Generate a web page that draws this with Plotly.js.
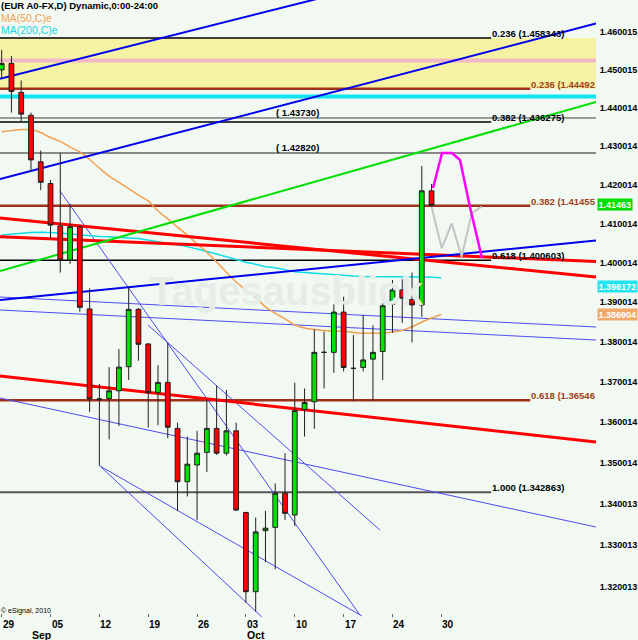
<!DOCTYPE html>
<html><head><meta charset="utf-8">
<script src="https://cdn.plot.ly/plotly-3.0.1.min.js"></script>
<style>html,body{margin:0;padding:0;background:#F2F8F2;}#chart{width:638px;height:640px;}</style>
</head><body><div id="chart"></div>
<script>
// ---- candle data (trading-day index 0..44) ----
const open  = [1.4499,1.4516,1.4440,1.4380,1.4259,1.4203,1.4094,1.4007,1.4092,1.3883,1.3656,1.3659,1.3678,1.3738,1.3882,1.3795,1.3674,1.3699,1.3585,1.3454,1.3495,1.3526,1.3585,1.3524,1.3579,1.3379,1.3188,1.3335,1.3343,1.3426,1.3373,1.3632,1.3651,1.3774,1.3774,1.3875,1.3734,1.3736,1.3757,1.3776,1.3895,1.3931,1.3907,1.3893,1.4184];
const high  = [1.4552,1.4536,1.4471,1.4387,1.4288,1.4212,1.4281,1.4150,1.4095,1.3935,1.3695,1.3737,1.3782,1.3938,1.3885,1.3797,1.3742,1.3798,1.3599,1.3565,1.3579,1.3657,1.3690,1.3680,1.3599,1.3381,1.3367,1.3383,1.3450,1.3524,1.3698,1.3684,1.3832,1.3826,1.3895,1.3914,1.3817,1.3868,1.3842,1.3897,1.3956,1.3958,1.3975,1.4248,1.4202];
const low   = [1.4477,1.4387,1.4363,1.4233,1.4186,1.4063,1.3975,1.3997,1.3876,1.3626,1.3493,1.3558,1.3591,1.3705,1.3753,1.3587,1.3593,1.3561,1.3383,1.3418,1.3361,1.3478,1.3520,1.3518,1.3383,1.3161,1.3140,1.3259,1.3242,1.3361,1.3346,1.3565,1.3584,1.3684,1.3723,1.3726,1.3653,1.3726,1.3653,1.3705,1.3823,1.3848,1.3799,1.3863,1.4139];
const close = [1.4516,1.4442,1.4383,1.4264,1.4206,1.4096,1.4007,1.4092,1.3887,1.3658,1.3658,1.3678,1.3737,1.3882,1.3794,1.3674,1.3699,1.3588,1.3454,1.3497,1.3524,1.3585,1.3524,1.3579,1.3385,1.3188,1.3332,1.3341,1.3426,1.3377,1.3629,1.3649,1.3774,1.3774,1.3875,1.3736,1.3734,1.3755,1.3774,1.3891,1.3931,1.3910,1.3893,1.4184,1.41463];
// moving averages (index 0..45)
const ma50  = [1.4337,1.4340,1.4343,1.4342,1.4335,1.4322,1.4312,1.4297,1.4285,1.4265,1.4243,1.4222,1.4206,1.4190,1.4173,1.4158,1.4132,1.4112,1.4091,1.4071,1.4048,1.4027,1.4002,1.3976,1.3951,1.3931,1.3912,1.3888,1.3872,1.3858,1.3843,1.3835,1.3831,1.3829,1.3827,1.3827,1.3824,1.3822,1.3822,1.3822,1.3825,1.3829,1.3838,1.3850,1.3860,1.3869];
const ma200 = [1.4071,1.4073,1.4076,1.4077,1.4078,1.4077,1.4076,1.4073,1.4071,1.4068,1.4067,1.4066,1.4064,1.4063,1.4062,1.4058,1.4054,1.4050,1.4045,1.4041,1.4035,1.4029,1.4022,1.4015,1.4007,1.4001,1.3996,1.3990,1.3987,1.3982,1.3977,1.3975,1.3973,1.3971,1.3970,1.3968,1.3966,1.3965,1.3965,1.3965,1.3965,1.3965,1.3965,1.3964,1.3963,1.3962];
// axis ticks
const xTickIdx  = [0,5,10,15,20,25,30,35,40,45];
const xTickText = ['29','05','12','19','26','03','10','17','24','30'];
const monthIdx  = [3,25];
const monthText = ['Sep','Oct'];
const yTickVals = [1.320013,1.330013,1.340013,1.350014,1.360014,1.370014,1.380014,1.390014,1.400014,1.410014,1.420014,1.430014,1.440014,1.450015,1.460015];
const yTickText = ['1.320013','1.330013','1.340013','1.350014','1.360014','1.370014','1.380014','1.390014','1.400014','1.410014','1.420014','1.430014','1.440014','1.450015','1.460015'];
// fibonacci levels
const fibBlackPrice = [1.458343,1.436275,1.400603,1.342863];
const fibBlackText  = ['0.236 (1.458343)','0.382 (1.436275)','0.618 (1.400603)','1.000 (1.342863)'];
const fibBrownPrice = [1.44492,1.41455,1.36546];
const fibBrownText  = ['0.236 (1.44492','0.382 (1.41455','0.618 (1.36546'];
const levelPrice = [1.4373,1.4282];
const levelText  = ['( 1.43730)','( 1.42820)'];
const bandPrice = [1.44492,1.458343];
const pinkPrice = 1.45238, cyanPrice = 1.44292;
// trend lines [x0, p0, x1, p1]
const blueThick = [[-0.17,1.4476,40.77,1.4743],[-0.17,1.42145,60.83,1.46218],[-0.17,1.39055,60.83,1.40566]];
const redThick  = [[-0.17,1.41142,60.83,1.39637],[-0.17,1.40664,60.83,1.40031],[-0.17,1.37149,60.83,1.35514]];
const greenLine = [[-0.17,1.39790,60.83,1.44148]];
const thinBlue  = [[-0.17,1.39131,60.83,1.38375],[-0.17,1.38803,60.83,1.38048],[-0.17,1.36602,60.83,1.33438],
                   [10.06,1.34925,36.88,1.31298],[10.06,1.34925,26.64,1.31274],[5.97,1.41835,36.67,1.31322],[14.97,1.38425,38.72,1.33365]];
// projections
const projPinkX = [44.15,45.07,46.09,46.91,47.93,49.16];
const projPinkY = [1.4191,1.42818,1.42818,1.42637,1.41424,1.40120];
const projGrayX = [44.0,45.04,46.06,47.08,48.11,49.13];
const projGrayY = [1.41432,1.40367,1.41007,1.40153,1.41263,1.41432];
// right-axis value boxes
const boxText = ['1.41463','1.396172','1.386904'];
const boxPrice = [1.41463,1.396172,1.386904];
const boxColor = ['#00DD00','#22E4F0','#F0A868'];
const boxShift = [1,-9,0];

const X0=-0.17, X1=60.83, FIBEND=50.1, BROWNEND=54.1;
const L = Math.log10;
const traces = [];
function seg(x0,p0,x1,p1,color,width,z){traces.push({type:'scatter',mode:'lines',x:[x0,x1],y:[p0,p1],line:{color:color,width:width},hoverinfo:'skip',showlegend:false,zorder:z||0});}
traces.push({type:'scatter',mode:'lines',x:[X0,X1,X1,X0,X0],y:[bandPrice[0],bandPrice[0],bandPrice[1],bandPrice[1],bandPrice[0]],fill:'toself',fillcolor:'#F6F2A4',line:{width:0},hoverinfo:'skip',showlegend:false});
seg(X0,pinkPrice,X1,pinkPrice,'#F2B8C6',4);
seg(X0,cyanPrice,X1,cyanPrice,'#10E6F2',4);
levelPrice.forEach((p,i)=>seg(X0,p,X1,p,i===0?'#404040':'#8A8A8A',i===0?1:2));
fibBlackPrice.forEach((p,i)=>seg(X0,p,FIBEND,p,i===3?'#555555':'#000000',i===3?2:1.5));
fibBrownPrice.forEach(p=>seg(X0,p,BROWNEND,p,'#A0301A',2.5));
thinBlue.forEach(t=>seg(t[0],t[1],t[2],t[3],'#4C4CF2',1));
traces.push({type:'scatter',mode:'lines',x:ma200.map((v,i)=>i),y:ma200,line:{color:'#10DDE8',width:1.5},hoverinfo:'skip',showlegend:false});
traces.push({type:'scatter',mode:'lines',x:ma50.map((v,i)=>i),y:ma50,line:{color:'#F2A050',width:1.5,shape:'spline'},hoverinfo:'skip',showlegend:false});
redThick.forEach(t=>seg(t[0],t[1],t[2],t[3],'#FF0000',3));
greenLine.forEach(t=>seg(t[0],t[1],t[2],t[3],'#00E000',2));
blueThick.forEach(t=>seg(t[0],t[1],t[2],t[3],'#0000EE',2));
traces.push({type:'candlestick',x:open.map((v,i)=>i),open:open,high:high,low:low,close:close,
  increasing:{fillcolor:'#00E000',line:{color:'#202020',width:1}},
  decreasing:{fillcolor:'#FF0000',line:{color:'#202020',width:1}},
  whiskerwidth:0,hoverinfo:'skip',showlegend:false,zorder:5});
traces.push({type:'scatter',mode:'lines',x:projGrayX,y:projGrayY,line:{color:'#C4C4C4',width:2},hoverinfo:'skip',showlegend:false,zorder:6});
traces.push({type:'scatter',mode:'lines',x:projPinkX,y:projPinkY,line:{color:'#FF00FF',width:2.5},hoverinfo:'skip',showlegend:false,zorder:7});

const F='Liberation Sans, Arial, sans-serif';
const ann=[];
ann.push({xref:'paper',yref:'paper',x:0.48,y:1-291/617,text:'Tagesausblick',showarrow:false,font:{family:F,size:40,color:'#E6EDE6',weight:'bold'}});
fibBlackPrice.forEach((p,i)=>ann.push({xref:'x',yref:'y',x:FIBEND,y:L(p),xanchor:'left',yanchor:'bottom',yshift:-2,text:fibBlackText[i],showarrow:false,borderpad:0,font:{family:F,size:9.5,color:'#000',weight:'bold'}}));
fibBrownPrice.forEach((p,i)=>ann.push({xref:'x',yref:'y',x:BROWNEND,y:L(p),xanchor:'left',yanchor:'bottom',yshift:-2,text:fibBrownText[i],showarrow:false,borderpad:0,font:{family:F,size:9.5,color:'#A0401E',weight:'bold'}}));
levelPrice.forEach((p,i)=>ann.push({xref:'x',yref:'y',x:28,y:L(p),xanchor:'left',yanchor:'bottom',yshift:-1,text:levelText[i],showarrow:false,borderpad:0,font:{family:F,size:9.5,color:'#000',weight:'bold'}}));
xTickIdx.forEach((x,i)=>ann.push({xref:'x',yref:'paper',x:x,y:0,xanchor:'left',yanchor:'top',yshift:-1,text:xTickText[i],showarrow:false,borderpad:0,font:{family:F,size:10,color:'#000',weight:'bold'}}));
monthIdx.forEach((x,i)=>ann.push({xref:'x',yref:'paper',x:x,y:0,xanchor:'left',yanchor:'top',yshift:-11,text:monthText[i],showarrow:false,borderpad:0,font:{family:F,size:10.5,color:'#000',weight:'bold'}}));
boxPrice.forEach((p,i)=>ann.push({xref:'paper',yref:'y',x:1,y:L(p),xanchor:'left',yanchor:'middle',xshift:1,yshift:boxShift[i],text:boxText[i],showarrow:false,bgcolor:boxColor[i],borderpad:0.5,font:{family:F,size:9,color:'#FFFFFF',weight:'bold'}}));
ann.push({xref:'paper',yref:'paper',x:0,y:1,xanchor:'left',yanchor:'top',yshift:1,text:'(EUR A0-FX,D) Dynamic,0:00-24:00',showarrow:false,borderpad:0,font:{family:F,size:9.5,color:'#000',weight:'bold'}});
ann.push({xref:'paper',yref:'paper',x:0,y:1,xanchor:'left',yanchor:'top',yshift:-11,text:'MA(50,C)e',showarrow:false,borderpad:0,font:{family:F,size:10.5,color:'#F2A050'}});
ann.push({xref:'paper',yref:'paper',x:0,y:1,xanchor:'left',yanchor:'top',yshift:-23,text:'MA(200,C)e',showarrow:false,borderpad:0,font:{family:F,size:10.5,color:'#10D8E8'}});
ann.push({xref:'paper',yref:'paper',x:0,y:1-611/617,xanchor:'left',yanchor:'middle',text:'© eSignal, 2010',showarrow:false,borderpad:0,font:{family:F,size:7,color:'#000'}});

const layout={width:638,height:640,margin:{l:0,r:42,t:0,b:23},paper_bgcolor:'#F2F8F2',plot_bgcolor:'#F2F8F2',showlegend:false,
 xaxis:{range:[X0,X1],showgrid:false,zeroline:false,showticklabels:false,tickvals:xTickIdx,ticks:'inside',ticklen:3,tickcolor:'#666',showline:true,linecolor:'#707070',linewidth:2,rangeslider:{visible:false},fixedrange:true},
 yaxis:{type:'log',side:'right',range:[L(1.31275),L(1.46843)],showgrid:false,zeroline:false,tickvals:yTickVals,ticktext:yTickText,ticks:'',showline:true,linecolor:'#707070',linewidth:2,tickfont:{family:F,size:9,color:'#000',weight:'bold'},fixedrange:true},
 annotations:ann};
Plotly.newPlot('chart',traces,layout,{displayModeBar:false,staticPlot:true});
</script></body></html>
